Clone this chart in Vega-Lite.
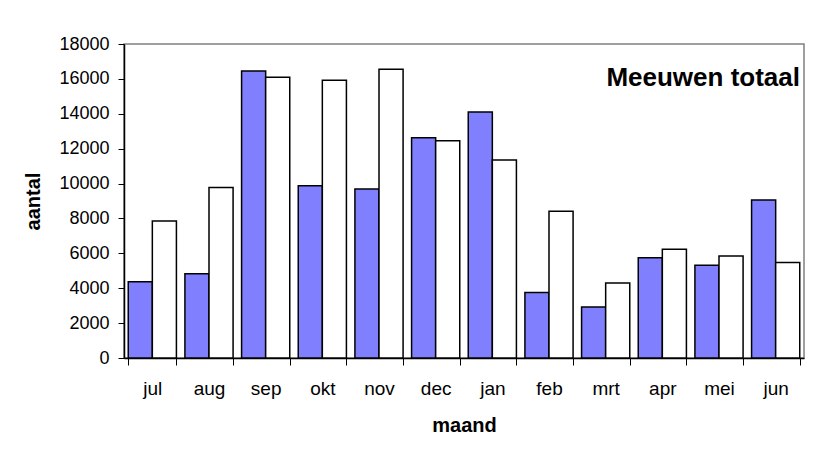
{
  "$schema": "https://vega.github.io/schema/vega-lite/v6.json",
  "width": 680,
  "height": 314,
  "autosize": "none",
  "padding": {"left": 124, "top": 44, "right": 12, "bottom": 99},
  "background": "white",
  "title": {
    "text": "Meeuwen totaal",
    "anchor": "end",
    "frame": "group",
    "orient": "top",
    "offset": 0,
    "baseline": "alphabetic",
    "dx": -4,
    "dy": 77,
    "font": "Liberation Sans",
    "fontSize": 26,
    "fontWeight": "bold",
    "color": "black"
  },
  "data": {
    "values": [
      {"maand": "jul", "reeks": "reeks1", "aantal": 4370},
      {"maand": "jul", "reeks": "reeks2", "aantal": 7850},
      {"maand": "aug", "reeks": "reeks1", "aantal": 4830},
      {"maand": "aug", "reeks": "reeks2", "aantal": 9780},
      {"maand": "sep", "reeks": "reeks1", "aantal": 16450},
      {"maand": "sep", "reeks": "reeks2", "aantal": 16090},
      {"maand": "okt", "reeks": "reeks1", "aantal": 9880},
      {"maand": "okt", "reeks": "reeks2", "aantal": 15920},
      {"maand": "nov", "reeks": "reeks1", "aantal": 9690},
      {"maand": "nov", "reeks": "reeks2", "aantal": 16550},
      {"maand": "dec", "reeks": "reeks1", "aantal": 12630},
      {"maand": "dec", "reeks": "reeks2", "aantal": 12460},
      {"maand": "jan", "reeks": "reeks1", "aantal": 14100},
      {"maand": "jan", "reeks": "reeks2", "aantal": 11350},
      {"maand": "feb", "reeks": "reeks1", "aantal": 3750},
      {"maand": "feb", "reeks": "reeks2", "aantal": 8410},
      {"maand": "mrt", "reeks": "reeks1", "aantal": 2920},
      {"maand": "mrt", "reeks": "reeks2", "aantal": 4300},
      {"maand": "apr", "reeks": "reeks1", "aantal": 5750},
      {"maand": "apr", "reeks": "reeks2", "aantal": 6230},
      {"maand": "mei", "reeks": "reeks1", "aantal": 5310},
      {"maand": "mei", "reeks": "reeks2", "aantal": 5850},
      {"maand": "jun", "reeks": "reeks1", "aantal": 9060},
      {"maand": "jun", "reeks": "reeks2", "aantal": 5480}
    ]
  },
  "mark": {"type": "bar", "stroke": "black", "strokeWidth": 1.5},
  "encoding": {
    "x": {
      "field": "maand",
      "type": "nominal",
      "sort": ["jul", "aug", "sep", "okt", "nov", "dec", "jan", "feb", "mrt", "apr", "mei", "jun"],
      "scale": {"paddingInner": 0.15, "paddingOuter": 0.075},
      "axis": {
        "title": "maand",
        "labelAngle": 0,
        "tickBand": "extent",
        "tickSize": 7,
        "tickColor": "black",
        "domainColor": "black",
        "domainWidth": 1.5,
        "labelPadding": 14,
        "labelFont": "Liberation Sans",
        "labelFontSize": 19,
        "labelColor": "black",
        "titleFont": "Liberation Sans",
        "titleFontSize": 20,
        "titleFontWeight": "bold",
        "titleColor": "black",
        "titleY": 67,
        "titleBaseline": "middle"
      }
    },
    "xOffset": {
      "field": "reeks",
      "type": "nominal",
      "scale": {"paddingInner": 0, "paddingOuter": 0}
    },
    "y": {
      "field": "aantal",
      "type": "quantitative",
      "scale": {"domain": [0, 18000], "nice": false},
      "axis": {
        "title": "aantal",
        "values": [0, 2000, 4000, 6000, 8000, 10000, 12000, 14000, 16000, 18000],
        "format": "d",
        "grid": false,
        "tickSize": 6,
        "tickColor": "black",
        "domainColor": "black",
        "domainWidth": 1.5,
        "labelPadding": 9,
        "labelFont": "Liberation Sans",
        "labelFontSize": 18,
        "labelColor": "black",
        "titleFont": "Liberation Sans",
        "titleFontSize": 20,
        "titleFontWeight": "bold",
        "titleColor": "black",
        "titleX": -91,
        "titleY": 157,
        "titleAngle": 270,
        "titleAlign": "center",
        "titleBaseline": "middle"
      }
    },
    "fill": {
      "field": "reeks",
      "type": "nominal",
      "scale": {"domain": ["reeks1", "reeks2"], "range": ["#8080FF", "#FFFFFF"]},
      "legend": null
    }
  },
  "config": {
    "view": {"stroke": "#808080", "strokeWidth": 1.5}
  }
}
